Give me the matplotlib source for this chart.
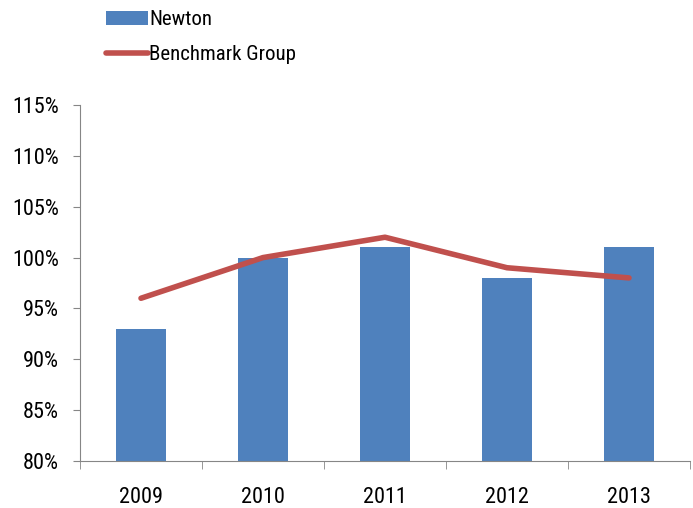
import matplotlib
matplotlib.use("Agg")
import matplotlib.pyplot as plt
from matplotlib.patches import Patch
from matplotlib.lines import Line2D
from matplotlib import font_manager as fm

years = ["2009", "2010", "2011", "2012", "2013"]
newton = [93, 100, 101, 98, 101]
benchmark = [96, 100, 102, 99, 98]
yticks = [80, 85, 90, 95, 100, 105, 110, 115]

names = {f.name: f for f in fm.fontManager.ttflist}
stretches = {(f.name, f.stretch) for f in fm.fontManager.ttflist}
family = 'DejaVu Sans'
stretch = 'normal'
for cand in ['Liberation Sans Narrow', 'Roboto Condensed', 'Open Sans Condensed', 'DejaVu Sans Condensed', 'Noto Sans Condensed']:
    if cand in names:
        family = cand
        break
else:
    for (n, s) in stretches:
        if n in ('DejaVu Sans', 'Noto Sans', 'Open Sans', 'Roboto') and s not in ('normal', 500):
            if (isinstance(s, str) and 'condensed' in s) or (isinstance(s, int) and s < 500):
                family = n
                stretch = s
                break

plt.rcParams['font.family'] = [family, 'DejaVu Sans']
plt.rcParams['font.stretch'] = stretch

fig = plt.figure(figsize=(6.93, 5.08), dpi=100)
ax = fig.add_axes([80/693, 1-461/508, 610/693, (461-105)/508])

x = list(range(len(years)))
ax.bar(x, [v - 80 for v in newton], bottom=80, width=0.41, color='#4F81BD', zorder=2)
ax.plot(x, benchmark, color='#C0504D', lw=4, zorder=3, solid_capstyle='round')

ax.set_xlim(-0.5, len(years) - 0.5)
ax.set_ylim(80, 115)
ax.set_yticks(yticks)
ax.set_yticklabels([f"{t}%" for t in yticks], fontsize=16)
ax.set_xticks(x)
ax.set_xticklabels(years, fontsize=16)
ax.tick_params(axis='x', length=0, pad=19)
ax.set_xticks([i + 0.5 for i in range(-1, len(years))], minor=True)
ax.tick_params(axis='x', which='minor', length=6, color='#868686', direction='out')
ax.tick_params(axis='y', length=5, color='#868686', direction='out', pad=10)
for s in ['top', 'right']:
    ax.spines[s].set_visible(False)
for s in ['left', 'bottom']:
    ax.spines[s].set_color('#868686')

handles = [Patch(facecolor='#4F81BD'), Line2D([0], [0], color='#C0504D', lw=4, solid_capstyle='round')]
fig.legend(handles, ['Newton', 'Benchmark Group'], loc='upper left',
           bbox_to_anchor=(98/693, 1 - 2/508), frameon=False, fontsize=15,
           handlelength=2.0, handletextpad=0.05, labelspacing=0.75, borderaxespad=0)

fig.savefig('out.png', dpi=100)
